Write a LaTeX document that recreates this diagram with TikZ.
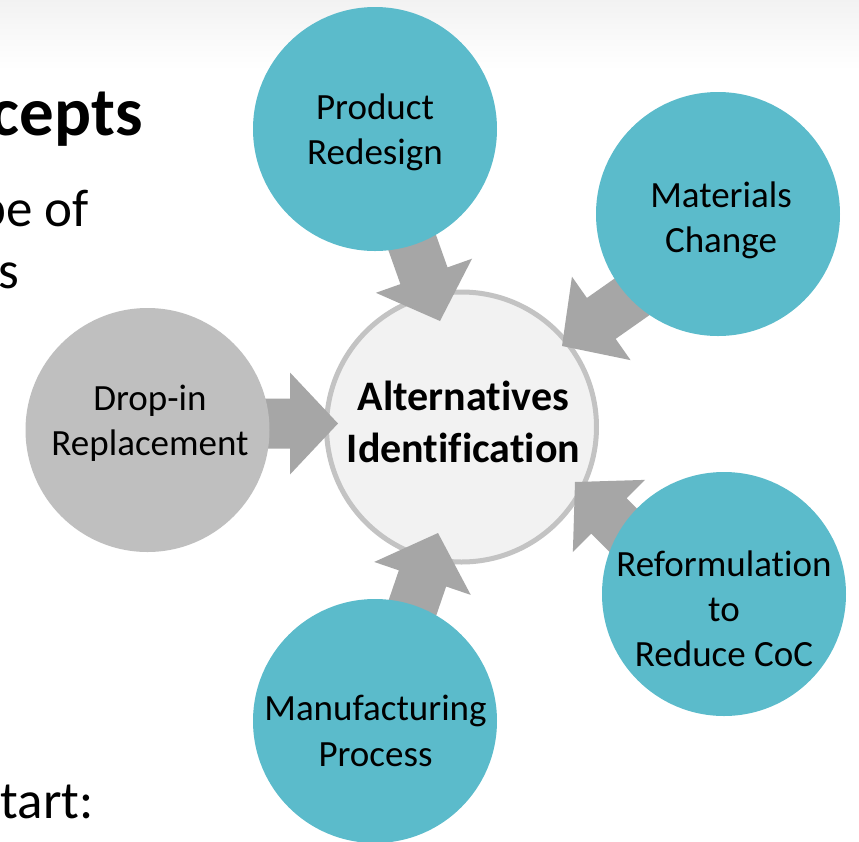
\documentclass[tikz,border=0pt]{standalone}
\usepackage{fontspec}
\setmainfont[Ligatures={NoCommon}]{Carlito}
\usetikzlibrary{calc}
\definecolor{teal}{HTML}{5BBBCB}
\definecolor{dropgray}{HTML}{BFBFBF}
\definecolor{arrowfill}{HTML}{A6A6A6}
\definecolor{centerfill}{HTML}{F2F2F2}
\definecolor{centerline}{HTML}{C3C3C3}
\newcommand{\myBlockArrow}[2]{%
  \coordinate (#2-b) at ($(#2)!24pt!(#1)$);
  \fill[arrowfill] ($(#1)!12.5pt!90:(#2)$) -- ($(#2-b)!12.5pt!90:(#2)$) -- ($(#2-b)!25.5pt!90:(#2)$) -- (#2)
    -- ($(#2-b)!25.5pt!-90:(#2)$) -- ($(#2-b)!12.5pt!-90:(#2)$) -- ($(#1)!12.5pt!-90:(#2)$) -- cycle;}
\begin{document}
\begin{tikzpicture}[x=0.5pt,y=-0.5pt,
  outer/.style={circle, inner sep=0pt, minimum size=122pt, fill=teal},
  lbl/.style={anchor=base, inner sep=0pt, font=\fontsize{18.5}{22.5}\selectfont},
  clbl/.style={anchor=base, inner sep=0pt, font=\fontsize{21}{26}\selectfont\bfseries},
  slide/.style={anchor=base east, inner sep=0pt, font=\fontsize{26.5}{32}\selectfont}]
\fill[white] (0,0) rectangle (859,842);
\useasboundingbox (0,0) rectangle (859,842);
\shade[top color=black!5, bottom color=white] (0,0) rectangle (859,70);
% slide text (cut off at the left edge)
\node[anchor=base east, inner sep=0pt, font=\fontsize{34.5}{40}\selectfont\bfseries] (title) at (143,135) {cepts};
\node[slide] (body1) at (89,226) {pe of};
\node[slide] (body2) at (20,288) {s};
\node[slide] (body3) at (94,818) {start:};
% center
\node[circle, inner sep=0pt, minimum size=135pt, fill=centerfill, draw=centerline, line width=2.5pt] (hub) at (461.5,427) {};
% arrow ends
\coordinate (sP) at (390,180);   \coordinate (tP) at (440,321);
\coordinate (sM) at (693,254);   \coordinate (tM) at (562,346);
\coordinate (sF) at (389.5,675); \coordinate (tF) at (438,533);
\coordinate (sR) at (681,588);   \coordinate (tR) at (575,482);
\coordinate (sD) at (190,423.5); \coordinate (tD) at (338,423.5);
\myBlockArrow{sP}{tP}
\myBlockArrow{sM}{tM}
\myBlockArrow{sF}{tF}
\myBlockArrow{sR}{tR}
\myBlockArrow{sD}{tD}
% outer circles
\node[outer] (prod) at (375,129) {};
\node[outer] (mat) at (718,214) {};
\node[outer, fill=dropgray] (drop) at (147.5,430) {};
\node[outer] (manu) at (375,721) {};
\node[outer] (ref) at (724,594) {};
% labels
\node[clbl] (hubA) at (463.5,410) {Alternatives};
\node[clbl] (hubB) at (463.5,462) {Identification};
\node[lbl] (prodA) at (375,119) {Product};
\node[lbl] (prodB) at (375,164) {Redesign};
\node[lbl] (matA) at (721,207) {Materials};
\node[lbl] (matB) at (721,252) {Change};
\node[lbl] (dropA) at (150,410) {Drop-in};
\node[lbl] (dropB) at (150,455) {Replacement};
\node[lbl] (manuA) at (375.5,720) {Manufacturing};
\node[lbl] (manuB) at (375.5,766) {Process};
\node[lbl] (refA) at (724,576) {Reformulation};
\node[lbl] (refB) at (724,621) {to};
\node[lbl] (refC) at (724,666) {Reduce CoC};
\end{tikzpicture}
\end{document}
